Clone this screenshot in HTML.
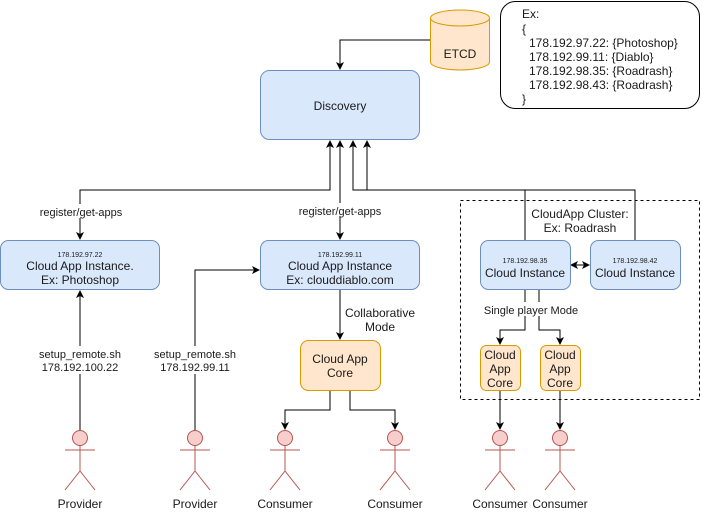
<!DOCTYPE html>
<html><head><style>body{margin:0;background:#fff}svg{display:block}text{font-family:"Liberation Sans",sans-serif;fill:#1a1a1a}</style></head>
<body>
<svg width="702" height="512" viewBox="0 0 702 512" xmlns="http://www.w3.org/2000/svg">
<defs>
<marker id="a" markerWidth="8" markerHeight="8" refX="7" refY="4" orient="auto" markerUnits="userSpaceOnUse"><path d="M0,0 L8,4 L0,8 L2,4 z" fill="#000"/></marker>
<marker id="s" markerWidth="8" markerHeight="8" refX="1" refY="4" orient="auto" markerUnits="userSpaceOnUse"><path d="M8,0 L0,4 L8,8 L6,4 z" fill="#000"/></marker>
</defs>
<g fill="none" stroke="#000" stroke-width="1">
<!-- ETCD to discovery -->
<path d="M430,40 H340 V69" marker-end="url(#a)"/>
<!-- left -->
<path d="M80,239 V190 H330 V141" marker-end="url(#a)" marker-start="url(#s)"/>
<path d="M340,239 V141" marker-end="url(#a)" marker-start="url(#s)"/>
<path d="M525,240 V190 H353 V141" marker-end="url(#a)"/>
<path d="M635,240 V190 H367 V141" marker-end="url(#a)"/>
<!-- providers -->
<path d="M80,430 V291" marker-end="url(#a)"/>
<path d="M195,430 V270 H259" marker-end="url(#a)"/>
<!-- collaborative -->
<path d="M340,290 V339" marker-end="url(#a)"/>
<path d="M330,390 V410 H285 V429" marker-end="url(#a)"/>
<path d="M350,390 V410 H395 V429" marker-end="url(#a)"/>
<!-- cluster -->
<path d="M571,265 H589" marker-end="url(#a)" marker-start="url(#s)"/>
<path d="M525,290 V330 H500 V344" marker-end="url(#a)"/>
<path d="M539,290 V330 H560 V344" marker-end="url(#a)"/>
<path d="M500,390 V429" marker-end="url(#a)"/>
<path d="M560,390 V429" marker-end="url(#a)"/>
</g>
<rect x="460.5" y="200.5" width="239" height="199" fill="none" stroke="#000" stroke-dasharray="3,3"/>
<!-- label backgrounds -->
<rect x="38" y="204" width="86" height="14" fill="#fff"/>
<rect x="297" y="203" width="86" height="14" fill="#fff"/>
<rect x="38" y="346" width="86" height="28" fill="#fff"/>
<rect x="153" y="346" width="86" height="28" fill="#fff"/>
<rect x="482" y="302" width="98" height="14" fill="#fff"/>
<text x="81" y="216" font-size="11" text-anchor="middle">register/get-apps</text>
<text x="340" y="215" font-size="11" text-anchor="middle">register/get-apps</text>
<text x="80" y="358" font-size="11" text-anchor="middle">setup_remote.sh</text>
<text x="80" y="371" font-size="11" text-anchor="middle">178.192.100.22</text>
<text x="195" y="358" font-size="11" text-anchor="middle">setup_remote.sh</text>
<text x="195" y="371" font-size="11" text-anchor="middle">178.192.99.11</text>
<text x="380" y="317" font-size="12" text-anchor="middle">Collaborative</text>
<text x="380" y="331" font-size="12" text-anchor="middle">Mode</text>
<text x="531" y="314" font-size="11" text-anchor="middle">Single player Mode</text>
<text x="580" y="218" font-size="12" text-anchor="middle">CloudApp Cluster:</text>
<text x="580" y="232" font-size="12" text-anchor="middle">Ex: Roadrash</text>
<!-- ETCD -->
<path d="M430.5,18 V62 A29.5,8 0 0 0 489.5,62 V18" fill="#ffe6cc" stroke="#d79b00"/>
<ellipse cx="460" cy="18" rx="29.5" ry="8" fill="#ffe6cc" stroke="#d79b00"/>
<text x="460" y="58" font-size="12" text-anchor="middle">ETCD</text>
<!-- note -->
<rect x="500.5" y="1.5" width="199" height="107" rx="15" fill="#fff" stroke="#000"/>
<g font-size="12"><text x="522" y="18">Ex:</text><text x="522" y="33">{</text>
<text x="529" y="47">178.192.97.22: {Photoshop}</text>
<text x="529" y="61">178.192.99.11: {Diablo}</text>
<text x="529" y="75">178.192.98.35: {Roadrash}</text>
<text x="529" y="89">178.192.98.43: {Roadrash}</text>
<text x="522" y="103">}</text></g>
<!-- boxes -->
<g fill="#dae8fc" stroke="#6c8ebf">
<rect x="260.5" y="70.5" width="159" height="69" rx="9"/>
<rect x="0.5" y="240.5" width="159" height="49" rx="8"/>
<rect x="260.5" y="240.5" width="159" height="49" rx="8"/>
<rect x="480.5" y="240.5" width="90" height="49" rx="8"/>
<rect x="590.5" y="240.5" width="90" height="49" rx="8"/>
</g>
<text x="340" y="110" font-size="12" text-anchor="middle">Discovery</text>
<text x="80" y="257" font-size="7" text-anchor="middle">178.192.97.22</text>
<text x="80" y="270" font-size="12" text-anchor="middle">Cloud App Instance.</text>
<text x="80" y="284" font-size="12" text-anchor="middle">Ex: Photoshop</text>
<text x="340" y="257" font-size="7" text-anchor="middle">178.192.99.11</text>
<text x="340" y="270" font-size="12" text-anchor="middle">Cloud App Instance</text>
<text x="340" y="284" font-size="12" text-anchor="middle">Ex: clouddiablo.com</text>
<text x="525" y="263" font-size="7" text-anchor="middle">178.192.98.35</text>
<text x="525" y="277" font-size="12" text-anchor="middle">Cloud Instance</text>
<text x="635" y="263" font-size="7" text-anchor="middle">178.192.98.42</text>
<text x="635" y="277" font-size="12" text-anchor="middle">Cloud Instance</text>
<g fill="#ffe6cc" stroke="#d79b00">
<rect x="300.5" y="340.5" width="80" height="50" rx="8"/>
<rect x="480.5" y="345.5" width="40" height="45" rx="6"/>
<rect x="540.5" y="345.5" width="40" height="45" rx="6"/>
</g>
<text x="340" y="363" font-size="12" text-anchor="middle">Cloud App</text>
<text x="340" y="377" font-size="12" text-anchor="middle">Core</text>
<g font-size="12" text-anchor="middle">
<text x="500" y="359">Cloud</text><text x="500" y="373">App</text><text x="500" y="387">Core</text>
<text x="560" y="359">Cloud</text><text x="560" y="373">App</text><text x="560" y="387">Core</text>
</g>
<!-- actors -->
<g fill="#f8cecc" stroke="#b85450">
<g transform="translate(80,0)"><circle cx="0" cy="438" r="7.5"/><path d="M0,445.5 V471 M-15,450 H15 M-15,490 L0,471 L15,490" fill="none"/></g>
<g transform="translate(195,0)"><circle cx="0" cy="438" r="7.5"/><path d="M0,445.5 V471 M-15,450 H15 M-15,490 L0,471 L15,490" fill="none"/></g>
<g transform="translate(285,0)"><circle cx="0" cy="438" r="7.5"/><path d="M0,445.5 V471 M-15,450 H15 M-15,490 L0,471 L15,490" fill="none"/></g>
<g transform="translate(395,0)"><circle cx="0" cy="438" r="7.5"/><path d="M0,445.5 V471 M-15,450 H15 M-15,490 L0,471 L15,490" fill="none"/></g>
<g transform="translate(500,0)"><circle cx="0" cy="438" r="7.5"/><path d="M0,445.5 V471 M-15,450 H15 M-15,490 L0,471 L15,490" fill="none"/></g>
<g transform="translate(560,0)"><circle cx="0" cy="438" r="7.5"/><path d="M0,445.5 V471 M-15,450 H15 M-15,490 L0,471 L15,490" fill="none"/></g>
</g>
<g font-size="12" text-anchor="middle">
<text x="80" y="508">Provider</text><text x="195" y="508">Provider</text>
<text x="285" y="508">Consumer</text><text x="395" y="508">Consumer</text>
<text x="500" y="508">Consumer</text><text x="560" y="508">Consumer</text>
</g>
</svg>
</body></html>
